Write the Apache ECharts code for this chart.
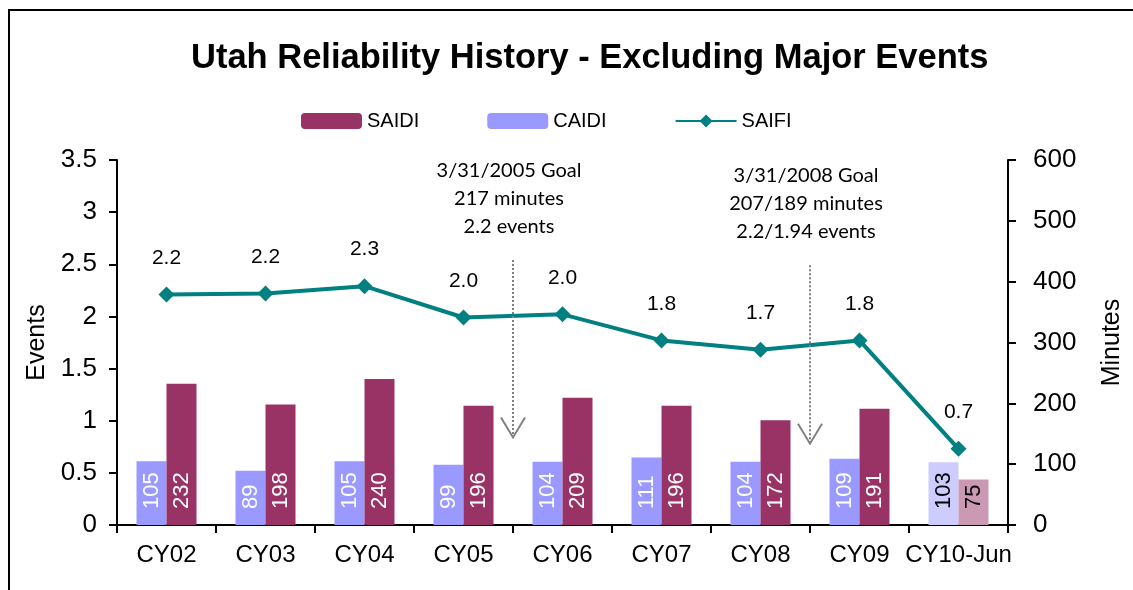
<!DOCTYPE html>
<html>
<head>
<meta charset="utf-8">
<script src="https://cdn.jsdelivr.net/npm/echarts@6/dist/echarts.min.js"></script>
<style>
  html, body { margin: 0; padding: 0; background: #fff; }
  #chart { width: 1133px; height: 590px; }
</style>
</head>
<body>
<div id="chart"></div>
<script>
// 数据
const categories = ['CY02', 'CY03', 'CY04', 'CY05', 'CY06', 'CY07', 'CY08', 'CY09', 'CY10-Jun'];
const saidi = [232, 198, 240, 196, 209, 196, 172, 191, 75];
const caidi = [105, 89, 105, 99, 104, 111, 104, 109, 103];
const saifi = [2.21, 2.22, 2.29, 1.99, 2.02, 1.77, 1.68, 1.77, 0.73];
const eventTicks = [0, 3.5, 0.5];
const minuteTicks = [0, 600, 100];

// 目标箭头: [x位置(类目间), 顶部(events), 底部(events)]
const goalArrows = [[3.5, 2.54, 0.84], [6.5, 2.49, 0.78]];
const goalTexts = [
    '3/31/2005 Goal\n217 minutes\n2.2 events',
    '3/31/2008 Goal\n207/189 minutes\n2.2/1.94 events'
];

// 最后一个类目(半年数据)用浅色显示
const partialIndex = categories.length - 1;

const barLabel = {
    show: true,
    position: 'insideBottom',
    rotate: 90,
    align: 'left',
    verticalAlign: 'middle',
    distance: 16,
    color: '#fff',
    fontSize: 22,
    fontFamily: 'Liberation Sans'
};

const buildBarData = (values, lightColor) => values.map((v, i) => {
    if (i !== partialIndex) return v;
    return {
        value: v,
        itemStyle: { color: lightColor },
        label: { color: '#000' }
    };
});

const chart = echarts.init(document.getElementById('chart'));

const axisLineStyle = { show: true, onZero: false, lineStyle: { color: '#000', width: 2 } };
const axisTickStyle = { show: true, length: 8, lineStyle: { color: '#000', width: 2 } };

const option = {
    backgroundColor: '#fff',
    animation: false,
    textStyle: { fontFamily: 'Liberation Sans', color: '#000' },
    title: {
        text: 'Utah Reliability History - Excluding Major Events',
        left: 186,
        top: 36,
        textStyle: { fontSize: 34.5, fontWeight: 'bold', color: '#000', fontFamily: 'Liberation Sans' }
    },
    legend: {
        data: ['SAIDI', 'CAIDI', 'SAIFI'],
        left: 296,
        top: 106,
        itemWidth: 61,
        itemHeight: 16,
        itemGap: 68,
        textStyle: { fontSize: 20, color: '#000' }
    },
    graphic: [{
        type: 'rect',
        shape: { x: 9, y: 10, width: 1300, height: 700 },
        style: { fill: null, stroke: '#000', lineWidth: 2 },
        silent: true
    }],
    grid: { left: 117, right: 112, top: 160, bottom: 65 },
    xAxis: [
        {
            type: 'category',
            data: categories,
            axisLine: axisLineStyle,
            axisTick: axisTickStyle,
            axisLabel: { fontSize: 24, color: '#000', margin: 18, interval: 0 }
        },
        {
            type: 'value',
            min: -0.5,
            max: categories.length - 0.5,
            show: false
        }
    ],
    yAxis: [
        {
            type: 'value',
            name: 'Events',
            nameLocation: 'middle',
            nameRotate: 90,
            nameGap: 66,
            nameTextStyle: { fontSize: 25, color: '#000' },
            min: eventTicks[0],
            max: eventTicks[1],
            interval: eventTicks[2],
            axisLine: axisLineStyle,
            axisTick: axisTickStyle,
            axisLabel: { fontSize: 26, color: '#000', margin: 20 },
            splitLine: { show: false }
        },
        {
            type: 'value',
            name: 'Minutes',
            nameLocation: 'middle',
            nameRotate: 90,
            nameGap: 92,
            nameTextStyle: { fontSize: 25, color: '#000' },
            min: minuteTicks[0],
            max: minuteTicks[1],
            interval: minuteTicks[2],
            axisLine: axisLineStyle,
            axisTick: axisTickStyle,
            axisLabel: { fontSize: 26, color: '#000', margin: 25 },
            splitLine: { show: false }
        }
    ],
    series: [
        {
            name: 'CAIDI',
            type: 'bar',
            yAxisIndex: 1,
            barWidth: 30,
            barGap: '0%',
            itemStyle: { color: '#9999ff' },
            label: barLabel,
            data: buildBarData(caidi, '#ccccff')
        },
        {
            name: 'SAIDI',
            type: 'bar',
            yAxisIndex: 1,
            barWidth: 30,
            barGap: '0%',
            itemStyle: { color: '#993366' },
            label: barLabel,
            data: buildBarData(saidi, '#cc99b3')
        },
        {
            name: 'SAIFI',
            type: 'line',
            yAxisIndex: 0,
            symbol: 'diamond',
            symbolSize: 16,
            itemStyle: { color: '#008080' },
            lineStyle: { color: '#008080', width: 4 },
            label: {
                show: true,
                position: 'top',
                distance: 18,
                fontSize: 21,
                color: '#000',
                formatter: (p) => p.value.toFixed(1)
            },
            data: saifi,
            z: 5
        },
        {
            name: 'goals',
            type: 'custom',
            xAxisIndex: 1,
            yAxisIndex: 0,
            silent: true,
            z: 6,
            encode: { x: 0, y: [1, 2] },
            data: goalArrows,
            renderItem: (params, api) => {
                const top = api.coord([api.value(0), api.value(1)]);
                const bot = api.coord([api.value(0), api.value(2)]);
                return {
                    type: 'group',
                    children: [
                        {
                            type: 'line',
                            shape: { x1: top[0], y1: top[1], x2: bot[0], y2: bot[1] },
                            style: { stroke: '#808080', lineWidth: 2, lineDash: [2, 2] }
                        },
                        {
                            type: 'polyline',
                            shape: { points: [[bot[0] - 12, bot[1] - 20], [bot[0], bot[1]], [bot[0] + 12, bot[1] - 20]] },
                            style: { stroke: '#808080', lineWidth: 2, fill: null }
                        },
                        {
                            type: 'text',
                            x: top[0] - 4,
                            y: top[1] - 20,
                            style: {
                                text: goalTexts[params.dataIndex],
                                fill: '#000',
                                fontSize: 20,
                                fontFamily: 'Lato',
                                lineHeight: 28,
                                align: 'center',
                                verticalAlign: 'bottom'
                            }
                        }
                    ]
                };
            }
        }
    ]
};

chart.setOption(option);
</script>
</body>
</html>
